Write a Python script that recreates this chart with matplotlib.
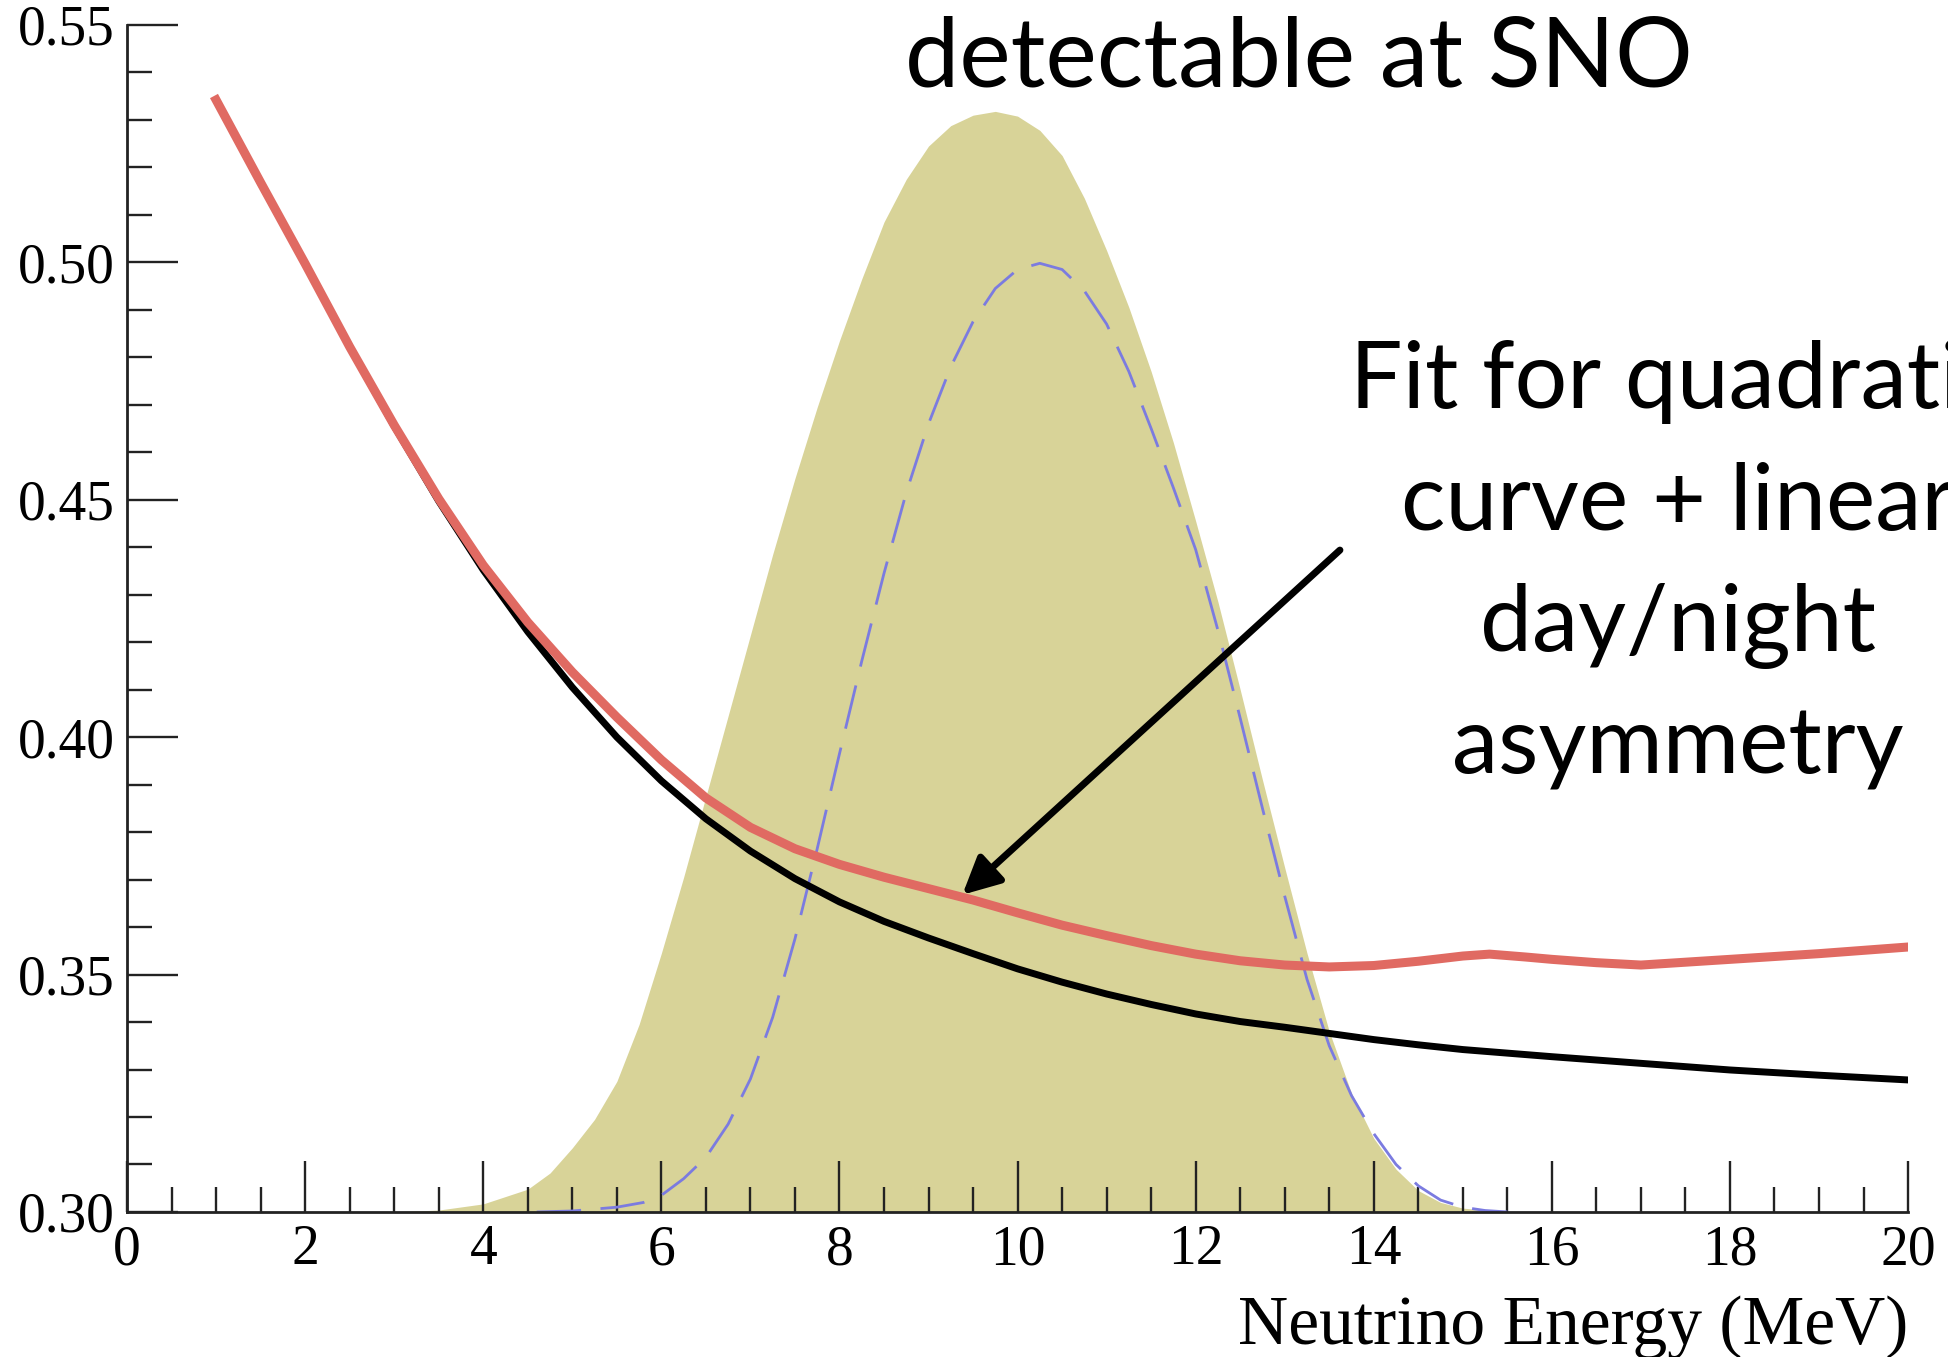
import numpy as np
import matplotlib.pyplot as plt
from matplotlib.ticker import MultipleLocator, FormatStrFormatter

# Quadratic fit + linear day/night asymmetry (red)
fit_e = [1.0, 1.5, 2.0, 2.5, 3.0, 3.5, 4.0, 4.5, 5.0, 5.5, 6.0, 6.5, 7.0, 7.5,
         8.0, 8.5, 9.0, 9.5, 10.0, 10.5, 11.0, 11.5, 12.0, 12.5, 13.0, 13.5,
         14.0, 14.5, 15.0, 15.3, 15.7, 16.0, 16.5, 17.0, 17.5, 18.0, 18.5,
         19.0, 19.5, 20.0]
fit_p = [0.5342, 0.5168, 0.4997, 0.4822, 0.4657, 0.4502, 0.4362, 0.4242,
         0.4137, 0.4042, 0.3952, 0.3872, 0.3810, 0.3765, 0.3732, 0.3705,
         0.3681, 0.3657, 0.3630, 0.3604, 0.3582, 0.3561, 0.3543, 0.3529,
         0.3520, 0.3516, 0.3519, 0.3528, 0.3539, 0.3543, 0.3537, 0.3532,
         0.3525, 0.3520, 0.3526, 0.3532, 0.3538, 0.3544, 0.3551, 0.3558]

# MSW survival probability (black)
msw_e = [1.0, 1.5, 2.0, 2.5, 3.0, 3.5, 4.0, 4.5, 5.0, 5.5, 6.0, 6.5, 7.0, 7.5,
         8.0, 8.5, 9.0, 9.5, 10.0, 10.5, 11.0, 11.5, 12.0, 12.5, 13.0, 13.5,
         14.0, 14.5, 15.0, 16.0, 17.0, 18.0, 19.0, 20.0]
msw_p = [0.5342, 0.5167, 0.4997, 0.4822, 0.4655, 0.4497, 0.4352, 0.4222,
         0.4105, 0.4000, 0.3908, 0.3828, 0.3760, 0.3702, 0.3653, 0.3612,
         0.3577, 0.3544, 0.3512, 0.3484, 0.3459, 0.3437, 0.3417, 0.3401,
         0.3389, 0.3376, 0.3363, 0.3352, 0.3342, 0.3327, 0.3313, 0.3299,
         0.3288, 0.3278]

# neutrino spectrum detectable at SNO (filled)
spec_e = [3.0, 3.5, 4.0, 4.5, 4.75, 5.0, 5.25, 5.5, 5.75, 6.0, 6.25, 6.5, 6.75,
          7.0, 7.25, 7.5, 7.75, 8.0, 8.25, 8.5, 8.75, 9.0, 9.25, 9.5, 9.75,
          10.0, 10.25, 10.5, 10.75, 11.0, 11.25, 11.5, 11.75, 12.0, 12.25,
          12.5, 12.75, 13.0, 13.25, 13.5, 13.75, 14.0, 14.25, 14.5, 14.75,
          15.0, 15.5]
spec_p = [0.3000, 0.3004, 0.3017, 0.3048, 0.3082, 0.3135, 0.3195, 0.3275,
          0.3395, 0.3545, 0.3705, 0.3875, 0.4045, 0.4215, 0.4385, 0.4545,
          0.4695, 0.4835, 0.4965, 0.5085, 0.5175, 0.5245, 0.5288, 0.5310,
          0.5318, 0.5308, 0.5278, 0.5225, 0.5135, 0.5025, 0.4905, 0.4770,
          0.4620, 0.4455, 0.4285, 0.4100, 0.3910, 0.3725, 0.3545, 0.3380,
          0.3250, 0.3155, 0.3090, 0.3045, 0.3020, 0.3008, 0.3000]

# dashed spectrum
dash_e = [4.6, 5.0, 5.5, 5.8, 6.0, 6.25, 6.5, 6.75, 7.0, 7.25, 7.5, 7.75, 8.0,
          8.25, 8.5, 8.75, 9.0, 9.25, 9.5, 9.75, 10.0, 10.25, 10.5, 10.75,
          11.0, 11.25, 11.5, 11.75, 12.0, 12.25, 12.5, 12.75, 13.0, 13.25,
          13.5, 13.75, 14.0, 14.25, 14.5, 14.75, 15.0, 15.25, 15.5]
dash_p = [0.3000, 0.3002, 0.3010, 0.3020, 0.3035, 0.3070, 0.3115, 0.3185,
          0.3280, 0.3410, 0.3575, 0.3765, 0.3965, 0.4160, 0.4345, 0.4515,
          0.4660, 0.4780, 0.4875, 0.4945, 0.4985, 0.4998, 0.4985, 0.4940,
          0.4870, 0.4770, 0.4650, 0.4525, 0.4395, 0.4225, 0.4040, 0.3850,
          0.3665, 0.3490, 0.3350, 0.3245, 0.3165, 0.3100, 0.3055, 0.3025,
          0.3010, 0.3003, 0.3000]

note_lines = ['Fit for quadratic', 'curve + linear', 'day/night', 'asymmetry']

fig = plt.figure(figsize=(19.49, 13.57), dpi=100)
ax = fig.add_axes([0.0652, 0.1069, 0.9138, 0.8747])

ax.fill_between(spec_e, 0.30, spec_p, color='#d8d398', lw=0, zorder=1)
ax.plot(dash_e, dash_p, color='#7b7be0', lw=2.0, dashes=(16, 7), zorder=2)
ax.plot(msw_e, msw_p, color='black', lw=5.0, zorder=3)
ax.plot(fit_e, fit_p, color='#e06a62', lw=6.5, zorder=4)

ax.set_xlim(0, 20)
ax.set_ylim(0.30, 0.55)

# axes: only left and bottom, ticks pointing inwards
for s in ['top', 'right']:
    ax.spines[s].set_visible(False)
for s in ['left', 'bottom']:
    ax.spines[s].set_linewidth(2.0)
    ax.spines[s].set_color('#222222')

ax.xaxis.set_major_locator(MultipleLocator(2))
ax.xaxis.set_minor_locator(MultipleLocator(0.5))
ax.yaxis.set_major_locator(MultipleLocator(0.05))
ax.yaxis.set_minor_locator(MultipleLocator(0.01))
ax.yaxis.set_major_formatter(FormatStrFormatter('%.2f'))

ax.tick_params(which='major', direction='in', length=37, width=1.7, color='#222222')
ax.tick_params(which='minor', direction='in', length=18, width=1.7, color='#222222')
ax.tick_params(axis='both', which='major', pad=9)
for lab in ax.get_xticklabels() + ax.get_yticklabels():
    lab.set_fontfamily('Liberation Serif')
    lab.set_fontsize(40)

ax.set_xlabel('Neutrino Energy (MeV)', family='Liberation Serif', fontsize=50, loc='right')
ax.xaxis.set_label_coords(1.0, -0.070)

# annotations
fig.text(0.6665, 0.936, 'detectable at SNO', family='Lato', fontsize=70,
         ha='center', va='baseline')
for i, line in enumerate(note_lines):
    fig.text(0.861, 0.6993 - i * 0.0897, line, family='Lato', fontsize=67,
             ha='center', va='baseline')

ax.annotate('', xy=(9.38, 0.3668), xytext=(13.62, 0.4394),
            arrowprops=dict(arrowstyle='-|>', lw=5, color='black',
                            mutation_scale=56, shrinkA=0, shrinkB=0),
            zorder=5, annotation_clip=False)

plt.savefig('out.png', dpi=100)
